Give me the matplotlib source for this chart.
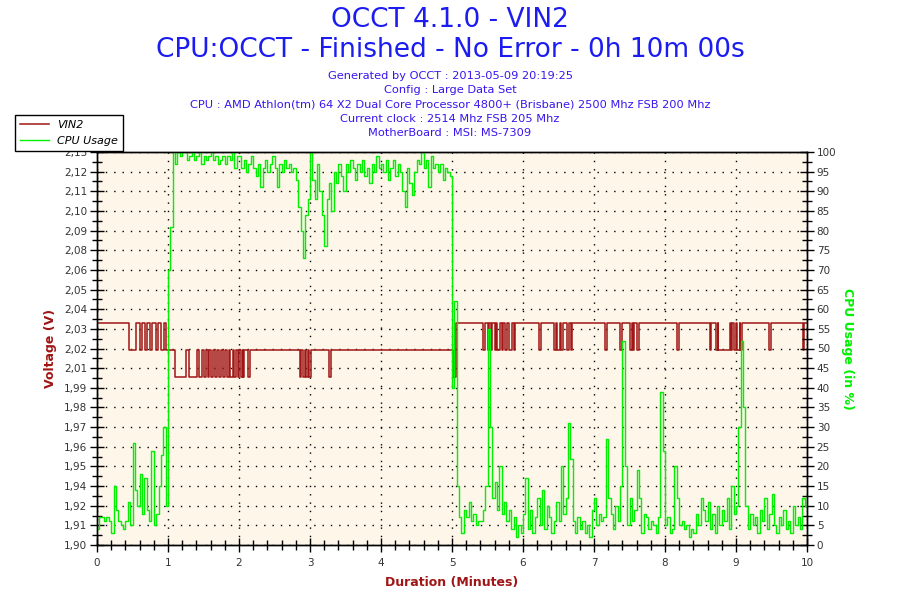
import matplotlib
matplotlib.use("Agg")
import matplotlib.pyplot as plt
import numpy as np

# ---------------- data ----------------
title_line1 = "OCCT 4.1.0 - VIN2"
title_line2 = "CPU:OCCT - Finished - No Error - 0h 10m 00s"
info_lines = [
    "Generated by OCCT : 2013-05-09 20:19:25",
    "Config : Large Data Set",
    "CPU : AMD Athlon(tm) 64 X2 Dual Core Processor 4800+ (Brisbane) 2500 Mhz FSB 200 Mhz",
    "Current clock : 2514 Mhz FSB 205 Mhz",
    "MotherBoard : MSI: MS-7309",
]

# Voltage (V) step changes: time (minutes) -> new value
volt_time = [0.00, 0.455, 0.55, 0.60, 0.63, 0.68, 0.70, 0.74, 0.78, 0.83, 0.86, 0.90, 0.95, 0.97,
             1.10, 1.26, 1.29, 1.41, 1.44, 1.48, 1.51, 1.53, 1.56, 1.58, 1.61, 1.64, 1.66, 1.69, 1.72,
             1.75, 1.77, 1.80, 1.83, 1.86, 1.88, 1.91, 1.93, 1.96, 1.98, 2.00, 2.03, 2.05, 2.06, 2.07,
             2.13, 2.15, 2.86, 2.88, 2.90, 2.93, 2.95, 2.97, 2.98, 3.02, 3.27, 3.30,
             5.02, 5.06, 5.44, 5.47, 5.50, 5.52, 5.55, 5.57, 5.60, 5.62, 5.64, 5.67, 5.70, 5.72,
             5.75, 5.78, 5.80, 5.84, 5.87, 5.89, 6.22, 6.25, 6.44, 6.46, 6.48, 6.52, 6.53, 6.56,
             6.62, 6.65, 6.67, 6.69, 7.16, 7.19, 7.37, 7.40, 7.50, 7.53, 7.55, 7.57, 7.61, 7.63,
             8.17, 8.20, 8.63, 8.65, 8.72, 8.74, 8.75, 8.91, 8.93, 8.95, 8.97, 9.00, 9.02, 9.05,
             9.06, 9.08, 9.47, 9.49, 9.94, 9.96, 10.0]
volt_value = [2.032, 2.016, 2.032, 2.016, 2.032, 2.016, 2.032, 2.016, 2.032, 2.016, 2.032, 2.016, 2.032, 2.016,
              2.000, 2.016, 2.000, 2.016, 2.000, 2.016, 2.000, 2.016, 2.000, 2.016, 2.000, 2.016, 2.000, 2.016, 2.000,
              2.016, 2.000, 2.016, 2.000, 2.016, 2.000, 2.016, 2.000, 2.016, 2.000, 2.016, 2.000, 2.016, 2.000, 2.016,
              2.000, 2.016, 2.000, 2.016, 2.000, 2.016, 2.000, 2.016, 2.000, 2.016, 2.000, 2.016,
              2.000, 2.032, 2.016, 2.032, 2.016, 2.032, 2.016, 2.032, 2.016, 2.032, 2.016, 2.032, 2.016, 2.032,
              2.016, 2.032, 2.016, 2.032, 2.016, 2.032, 2.016, 2.032, 2.016, 2.032, 2.016, 2.032, 2.016, 2.032,
              2.016, 2.032, 2.016, 2.032, 2.016, 2.032, 2.016, 2.032, 2.016, 2.032, 2.016, 2.032, 2.016, 2.032,
              2.016, 2.032, 2.016, 2.032, 2.016, 2.032, 2.016, 2.032, 2.016, 2.032, 2.016, 2.032, 2.016, 2.032,
              2.016, 2.032, 2.016, 2.032, 2.016, 2.032, 2.032]

# CPU usage (%) sampled every 2 s (1/30 min), minute by minute
cpu_min0 = [4, 7, 7, 6, 7, 6, 3, 15, 9, 6, 5, 4, 6, 11, 5, 26, 14, 10, 18, 8, 17, 9, 6, 24, 5, 8, 15, 23, 30, 10]
cpu_min1 = [70, 81, 100, 97, 100, 99, 100, 100, 98, 99, 100, 98, 99, 100, 97, 99, 98, 99, 100, 98, 99, 97, 98, 99, 97, 99, 98, 100, 96, 99]
cpu_min2 = [99, 96, 98, 95, 97, 99, 96, 94, 97, 91, 96, 98, 95, 97, 99, 96, 91, 97, 95, 98, 96, 97, 95, 96, 93, 86, 80, 73, 84, 88]
cpu_min3 = [100, 93, 88, 97, 90, 84, 76, 88, 92, 85, 95, 92, 97, 94, 90, 97, 95, 98, 96, 93, 97, 95, 98, 94, 96, 92, 97, 95, 99, 96]
cpu_min4 = [97, 95, 98, 93, 96, 98, 94, 97, 95, 90, 86, 96, 92, 89, 95, 98, 97, 100, 96, 98, 91, 99, 96, 97, 95, 97, 93, 96, 95, 94]
cpu_min5 = [40, 62, 15, 7, 3, 9, 7, 11, 6, 8, 5, 6, 6, 9, 15, 55, 30, 12, 16, 9, 20, 8, 11, 6, 9, 4, 7, 2, 5, 3]
cpu_min6 = [8, 17, 4, 9, 3, 7, 12, 5, 14, 4, 10, 7, 3, 6, 11, 6, 20, 8, 12, 31, 22, 6, 3, 7, 4, 6, 3, 5, 2, 9]
cpu_min7 = [12, 5, 8, 6, 7, 27, 12, 8, 4, 10, 6, 15, 52, 20, 5, 12, 6, 9, 19, 12, 3, 8, 7, 4, 6, 5, 3, 7, 39, 24]
cpu_min8 = [5, 7, 3, 4, 20, 12, 5, 6, 4, 5, 2, 4, 3, 8, 5, 12, 9, 6, 11, 4, 8, 3, 10, 5, 9, 6, 12, 4, 15, 8]
cpu_min9 = [10, 30, 52, 35, 10, 4, 8, 5, 7, 3, 9, 6, 12, 4, 8, 13, 5, 3, 7, 5, 9, 4, 6, 3, 10, 5, 7, 4, 12, 10, 13]

cpu_usage = (cpu_min0 + cpu_min1 + cpu_min2 + cpu_min3 + cpu_min4 +
             cpu_min5 + cpu_min6 + cpu_min7 + cpu_min8 + cpu_min9)
cpu_time = np.arange(len(cpu_usage)) / 30.0

volt_tick_labels = ["1,90", "1,91", "1,92", "1,94", "1,95", "1,96", "1,97", "1,98", "1,99", "2,01",
                    "2,02", "2,03", "2,04", "2,05", "2,06", "2,08", "2,09", "2,10", "2,11", "2,12", "2,13"]
volt_min, volt_max = 1.90, 2.134
cpu_ticks = list(range(0, 101, 5))
x_ticks = list(range(0, 11))

# ---------------- styling ----------------
title_color = "#1C1CF0"
info_color = "#3A14EE"
red = "#A01515"
green = "#00F000"
tick_color = "#333333"
bg = "#FDF6E9"

plt.rcParams["font.family"] = ["DejaVu Sans"]

fig = plt.figure(figsize=(9, 6), dpi=100)
ax = fig.add_axes([97 / 900, 55 / 600, 710 / 900, 393 / 600])
ax.set_facecolor(bg)
ax2 = ax.twinx()

ax.step(volt_time, volt_value, where="post", color=red, lw=1.1, label="VIN2")
ax2.step(cpu_time, cpu_usage, where="post", color=green, lw=1.0, label="CPU Usage")

ax.set_xlim(0, 10)
ax.set_ylim(volt_min, volt_max)
ax2.set_ylim(0, 100)

vt = np.linspace(volt_min, volt_max, len(volt_tick_labels))
ax.set_yticks(vt)
ax.set_yticklabels(volt_tick_labels)
ax.set_yticks((vt[:-1] + vt[1:]) / 2, minor=True)
ax2.set_yticks(cpu_ticks)
ax2.set_yticks(np.arange(2.5, 100, 5), minor=True)
ax.set_xticks(x_ticks)
ax.set_xticks(np.arange(0, 10.01, 0.2), minor=True)

for a in (ax, ax2):
    a.tick_params(axis="both", which="major", direction="inout", length=10, width=1,
                  color="black", labelsize=7.5, labelcolor=tick_color, pad=2)
    a.tick_params(axis="both", which="minor", direction="inout", length=7, width=1, color="black")
    a.tick_params(axis="x", which="both", top=False, labeltop=False)
    for s in a.spines.values():
        s.set_color("black")
        s.set_linewidth(1)
ax2.tick_params(axis="x", which="both", bottom=False, labelbottom=False)
ax.tick_params(axis="x", which="major", pad=4)

ax.grid(True, which="major", axis="both", color="black", linestyle=(0, (1, 5)), linewidth=1)

ax.set_ylabel("Voltage (V)", color=red, fontweight="bold", fontsize=9, labelpad=5)
ax2.set_ylabel("CPU Usage (in %)", color=green, fontweight="bold", fontsize=9,
               rotation=-90, labelpad=13)
ax.set_xlabel("Duration (Minutes)", color=red, fontweight="bold", fontsize=9, labelpad=6)

fig.text(0.5, 0.966, title_line1, ha="center", va="center", fontsize=19, color=title_color)
fig.text(0.5, 0.916, title_line2, ha="center", va="center", fontsize=19, color=title_color)
for i, line in enumerate(info_lines):
    fig.text(0.5, 0.873 - i * 0.0237, line, ha="center", va="center", fontsize=8.2, color=info_color)

h1, l1 = ax.get_legend_handles_labels()
h2, l2 = ax2.get_legend_handles_labels()
leg = fig.legend(h1 + h2, l1 + l2, loc="upper left", bbox_to_anchor=(0.0167, 0.809),
                 fancybox=False, framealpha=1, edgecolor="black", prop={"size": 8, "style": "italic"},
                 handlelength=2.6, borderpad=0.45, labelspacing=0.55, handletextpad=0.75, borderaxespad=0)
leg.get_frame().set_linewidth(1)

fig.savefig("out.png", dpi=100)
